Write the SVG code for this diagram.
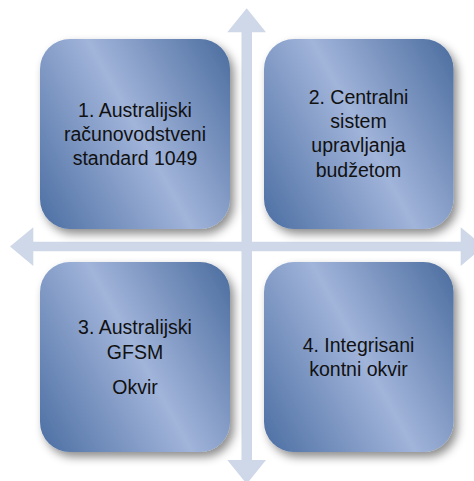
<svg xmlns="http://www.w3.org/2000/svg" width="474" height="481" viewBox="0 0 474 481">
  <defs>
    <linearGradient id="boxGrad" x1="-0.09" y1="0.84" x2="1.14" y2="0.16">
      <stop offset="0" stop-color="#4b6ea2"/>
      <stop offset="0.5" stop-color="#a1b4da"/>
      <stop offset="1" stop-color="#44679a"/>
    </linearGradient>
    <filter id="shadow" x="-20%" y="-20%" width="145%" height="145%">
      <feDropShadow dx="4" dy="5" stdDeviation="5" flood-color="#000" flood-opacity="0.45"/>
    </filter>
  </defs>
  <style>
    .box { fill: url(#boxGrad); filter: url(#shadow); }
    .arrow { fill: #ced8e8; }
    .label { font-family: "Liberation Sans", Arial, sans-serif; font-size: 19.5px; fill: #111; text-anchor: middle; }
  </style>
  <rect width="474" height="481" fill="#ffffff"/>

  <g id="connectors">
    <polygon class="arrow" points="246.7,8.3 266,32.3 252,32.3 252,460 266,460 246.7,484 227.3,460 241.5,460 241.5,32.3 227.3,32.3"/>
    <polygon class="arrow" points="10,246.5 33.3,227.3 33.3,241.7 460.7,241.7 460.7,227.3 484,246.5 460.7,266 460.7,251.2 33.3,251.2 33.3,266"/>
  </g>

  <g id="node1">
    <rect class="box" x="40" y="39" width="190" height="190" rx="30" ry="30"/>
    <text class="label" x="135" y="117">1. Australijski</text>
    <text class="label" x="135" y="141">računovodstveni</text>
    <text class="label" x="135" y="165">standard 1049</text>
  </g>

  <g id="node2">
    <rect class="box" x="264" y="39" width="189.5" height="190" rx="30" ry="30"/>
    <text class="label" x="358.5" y="103.5">2. Centralni</text>
    <text class="label" x="358.5" y="128">sistem</text>
    <text class="label" x="358.5" y="152">upravljanja</text>
    <text class="label" x="358.5" y="176.5">budžetom</text>
  </g>

  <g id="node3">
    <rect class="box" x="40" y="262" width="190" height="190" rx="30" ry="30"/>
    <text class="label" x="135" y="334">3. Australijski</text>
    <text class="label" x="135" y="359">GFSM</text>
    <text class="label" x="135" y="393.5">Okvir</text>
  </g>

  <g id="node4">
    <rect class="box" x="264" y="262" width="189.5" height="190" rx="30" ry="30"/>
    <text class="label" x="358.5" y="351.5">4. Integrisani</text>
    <text class="label" x="358.5" y="375.5">kontni okvir</text>
  </g>
</svg>
